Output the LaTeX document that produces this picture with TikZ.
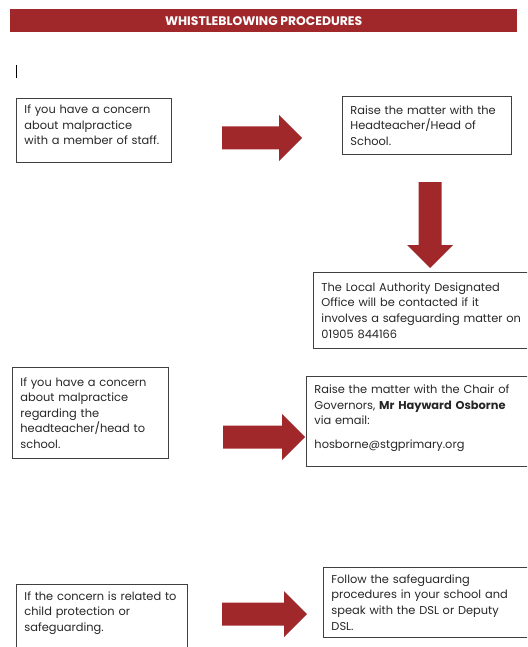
\documentclass[tikz,border=0pt]{standalone}
\usepackage{fontspec}
\setmainfont{Poppins}
\usetikzlibrary{positioning}

\definecolor{whistlered}{HTML}{A0282B}
\definecolor{boxline}{HTML}{404040}
\definecolor{inktext}{HTML}{262626}

\tikzset{
	stepcard/.style={draw=boxline, line width=0.9pt, anchor=north west, align=left,
		inner xsep=8pt, inner ysep=3pt, text=inktext,
		font=\fontsize{11.4}{15.6}\selectfont},
	blockarrow/.pic={
		\fill[whistlered] (0,-11.5) -- ({#1-23},-11.5) -- ({#1-23},-23) -- (#1,0)
			-- ({#1-23},23) -- ({#1-23},11.5) -- (0,11.5) -- cycle;
	}
}

\begin{document}
\begin{tikzpicture}[x=1pt,y=-1pt]
	\useasboundingbox (0,0) rectangle (527,647);
	\clip (0,0) rectangle (527,647);

	% Title bar
	\node[fill=whistlered, text=white, anchor=north west, inner sep=0pt,
		minimum width=507pt, minimum height=23pt,
		font=\bfseries\fontsize{12.4}{14}\selectfont] (title) at (10,9) {WHISTLEBLOWING PROCEDURES};

	% Cursor mark
	\draw[line width=1.1pt] (16.5,65) -- (16.5,78);

	%Row 1
	\node[stepcard, text width=139pt, minimum height=64pt] (concernstaff) at (16,98)
		{If you have a concern\\about malpractice\\with a member of staff.\\[-4pt]\mbox{}};
	\pic at (222,138) {blockarrow=80};
	\node[stepcard, text width=153pt, minimum height=58pt] (raisehead) at (342,96)
		{Raise the matter with the\\Headteacher/Head of\\School.};
	\pic[rotate=-90] at (430,182) {blockarrow=86};
	\node[stepcard, text width=214pt, minimum height=76pt] (lado) at (313,272)
		{The Local Authority Designated\\Office will be contacted if it\\involves a safeguarding matter on\\01905 844166};

	%Row 2
	\node[stepcard, text width=140pt, minimum height=91pt] (concernhead) at (12,367)
		{If you have a concern\\about malpractice\\regarding the\\headteacher/head to\\school.};
	\pic at (223,437) {blockarrow=82};
	\node[stepcard, text width=214pt, minimum height=90pt] (raisechair) at (306,376)
		{Raise the matter with the Chair of\\Governors, \textbf{Mr Hayward Osborne}\\via email:\\[8pt]hosborne@stgprimary.org\\[-6pt]\mbox{}};

	%Row 3
	\node[stepcard, text width=155pt, inner ysep=7pt] (concernsafe) at (16,584)
		{If the concern is related to\\child protection or\\safeguarding.\\[30pt]\mbox{}};
	\pic at (222,614) {blockarrow=85};
	\node[stepcard, text width=214pt, minimum height=70pt] (followproc) at (323,567)
		{Follow the safeguarding\\procedures in your school and\\speak with the DSL or Deputy\\DSL.};
\end{tikzpicture}
\end{document}
